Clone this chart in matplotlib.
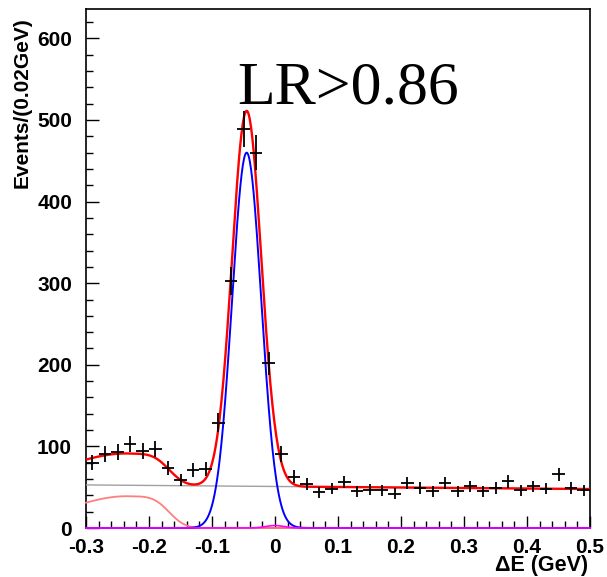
import math
import numpy as np
import matplotlib
matplotlib.use("Agg")
import matplotlib.pyplot as plt
from matplotlib.ticker import MultipleLocator

plt.rcParams['axes.unicode_minus'] = False
plt.rcParams['font.family'] = 'Liberation Sans'
plt.rcParams['font.weight'] = 'bold'

# Data: Delta E bin centres (0.02 GeV bins) and counts
de_centers = [-0.29, -0.27, -0.25, -0.23, -0.21, -0.19, -0.17, -0.15, -0.13, -0.11,
              -0.09, -0.07, -0.05, -0.03, -0.01, 0.01, 0.03, 0.05, 0.07, 0.09,
              0.11, 0.13, 0.15, 0.17, 0.19, 0.21, 0.23, 0.25, 0.27, 0.29,
              0.31, 0.33, 0.35, 0.37, 0.39, 0.41, 0.43, 0.45, 0.47, 0.49]
counts = [80, 91, 93, 103, 94, 97, 74, 59, 71, 72,
          129, 303, 489, 460, 202, 91, 63, 54, 44, 48,
          56, 45, 47, 46, 42, 55, 49, 45, 55, 45,
          51, 45, 49, 57, 46, 51, 48, 66, 49, 46]
x_ticks = [-0.3, -0.2, -0.1, 0, 0.1, 0.2, 0.3, 0.4, 0.5]
x_tick_labels = ['-0.3', '-0.2', '-0.1', '0', '0.1', '0.2', '0.3', '0.4', '0.5']

# Fit component parameters
sig_amp, sig_mean, sig_sigma = 460.0, -0.045, 0.0232
bkg_at_left, bkg_slope = 52.8, -6.3
bump_amp, bump_peak, bump_sigma_left, bump_edge, bump_width = 39.0, -0.235, 0.096, -0.168, 0.028
small_amp, small_mean, small_sigma = 3.0, 0.0, 0.015

x = np.linspace(-0.3, 0.5, 801)
signal = sig_amp * np.exp(-(x - sig_mean) ** 2 / (2 * sig_sigma ** 2))
background = bkg_at_left + bkg_slope * (x + 0.3)
erfc = np.vectorize(math.erfc)
bump = np.where(x < bump_peak,
                bump_amp * np.exp(-(x - bump_peak) ** 2 / (2 * bump_sigma_left ** 2)),
                bump_amp * 0.5 * erfc((x - bump_edge) / bump_width))
small = small_amp * np.exp(-(x - small_mean) ** 2 / (2 * small_sigma ** 2))
total = signal + background + bump + small

fig = plt.figure(figsize=(6.07, 5.77), dpi=100)
ax = fig.add_axes([0.1417, 0.0849, 0.972 - 0.1417, 0.9844 - 0.0849])

# Fit curves (clip off so the zero-level lines show above the axis)
ax.plot(x, background, color='#a0a0a0', lw=1.0)
ax.plot(x, bump, color='#ff7f7f', lw=1.3, clip_on=False)
ax.plot(x, signal, color='#0000ff', lw=1.4, clip_on=False)
ax.plot(x, small, color='#ff00ff', lw=1.2, clip_on=False)
ax.plot(x, total, color='#ff0000', lw=1.7)

errs = np.sqrt(np.array(counts, dtype=float))
ax.errorbar(de_centers, counts, yerr=errs, xerr=0.01, fmt='none',
            ecolor='black', elinewidth=1.3, capsize=0)

ax.set_xlim(-0.3, 0.5)
ax.set_ylim(0, 636)

ax.xaxis.set_major_locator(MultipleLocator(0.1))
ax.xaxis.set_minor_locator(MultipleLocator(0.02))
ax.yaxis.set_major_locator(MultipleLocator(100))
ax.yaxis.set_minor_locator(MultipleLocator(20))
ax.tick_params(which='both', direction='in', top=False, right=False, width=1.0,
               labelsize=15)
ax.tick_params(which='major', length=9)
ax.tick_params(which='minor', length=5)
ax.tick_params(axis='x', pad=7)
ax.tick_params(axis='y', pad=10)

ax.set_xticks(x_ticks)
ax.set_xticklabels(x_tick_labels)

for sp in ax.spines.values():
    sp.set_linewidth(1.2)
    sp.set_zorder(1)

ax.set_ylabel('Events/(0.02GeV)', fontsize=15, fontweight='bold')
ax.yaxis.set_label_coords(-0.107, 0.82)
ax.set_xlabel('\u0394E (GeV)', fontsize=15.5, fontweight='bold', ha='right', va='center')
ax.xaxis.set_label_coords(0.996, -0.072)

ax.text(0.3, 0.90, 'LR>0.86', transform=ax.transAxes, fontfamily='Liberation Serif',
        fontweight='normal', fontsize=44.5, va='top', ha='left')

fig.savefig('out.png', dpi=100)
